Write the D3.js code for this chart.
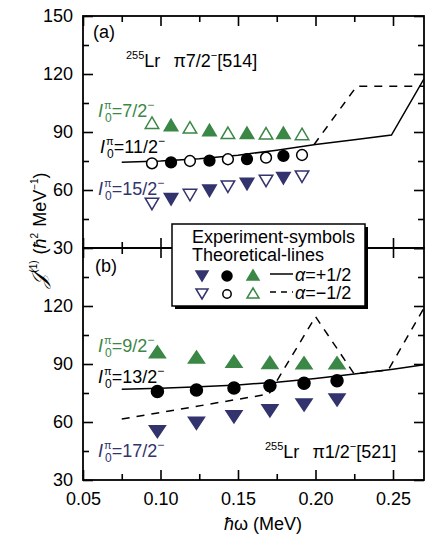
<!DOCTYPE html>
<html>
<head>
<meta charset="utf-8">
<script src="https://cdn.jsdelivr.net/npm/d3@7"></script>
<style>
  body { margin: 0; background: #fff; }
  svg text { font-family: "Liberation Sans", Arial, Helvetica, sans-serif; }
</style>
</head>
<body>
<script>
// ---- data ----
// panel (a): 255Lr pi7/2-[514], markers alternate open / filled
let hwA  = [0.0945, 0.1068, 0.1190, 0.1316, 0.1435, 0.1558, 0.1681, 0.1793, 0.1913];
let a7   = [94.8, 93.6, 92.4, 91.0, 89.6, 89.6, 89.3, 89.6, 89.0];
let a11  = [73.8, 74.3, 75.0, 75.2, 75.9, 76.0, 76.7, 77.6, 78.1];
let a15  = [52.8, 55.2, 57.4, 59.6, 61.7, 63.1, 64.7, 66.1, 66.9];

// panel (b): 255Lr pi1/2-[521], all filled
let hwB  = [0.0980, 0.1232, 0.1474, 0.1706, 0.1926, 0.2139];
let b9   = [96.3, 93.6, 91.4, 90.8, 90.6, 90.6];
let b13  = [75.8, 76.6, 77.6, 78.8, 80.0, 81.3];
let b17  = [55.0, 59.3, 62.7, 65.8, 68.8, 71.4];

// theoretical lines [hw, J1]
let thAplus  = [[0.075, 74.3], [0.100, 75.0], [0.125, 76.2], [0.150, 78.0], [0.175, 80.6],
                [0.200, 83.5], [0.225, 86.0], [0.249, 88.4], [0.270, 117.5]];
let thAminus = [[0.199, 83.4], [0.2265, 113.6], [0.270, 113.6]];
let thBplus  = [[0.075, 77.0], [0.100, 77.5], [0.125, 78.2], [0.150, 79.2], [0.175, 80.6],
                [0.200, 82.5], [0.225, 84.8], [0.250, 87.3], [0.270, 89.6]];
let thBminus = [[0.075, 61.5], [0.170, 74.5], [0.200, 114.5], [0.225, 84.8], [0.247, 87.0], [0.270, 119.0]];

let xMajor = [0.05, 0.10, 0.15, 0.20, 0.25];
let xMinor = [0.075, 0.125, 0.175, 0.225];
let yMajor = [30, 60, 90, 120, 150];
let yMinor = [45, 75, 105, 135];

(function () {

  let green = '#3b8746';
  let blue  = '#33336d';

  let W = 426, H = 535;
  let left = 83, right = 424;
  let aTop = 16, mid = 248, bBot = 480;

  let svg = d3.select('body').append('svg')
      .attr('width', W)
      .attr('height', H);

  let x  = d3.scaleLinear().domain([0.05, 0.27]).range([left, right]);
  let yA = d3.scaleLinear().domain([30, 150]).range([mid, aTop]);
  let yB = d3.scaleLinear().domain([30, 150]).range([bBot, mid]);

  svg.append('clipPath').attr('id', 'clipA').append('rect')
    .attr('x', left).attr('y', aTop).attr('width', right - left).attr('height', mid - aTop);
  svg.append('clipPath').attr('id', 'clipB').append('rect')
    .attr('x', left).attr('y', mid).attr('width', right - left).attr('height', bBot - mid);

  function styleAxis(g) {
    g.select('.domain').remove();
    g.selectAll('line').attr('stroke', '#000').attr('stroke-width', 1.6);
    g.selectAll('text').attr('fill', '#000').style('font-size', '18px');
  }

  function frame(y, top, bot, showX, yLabels) {
    // left
    svg.append('g').attr('transform', 'translate(' + left + ',0)')
      .call(d3.axisLeft(y).tickValues(yLabels).tickSize(-10).tickPadding(10).tickFormat(d3.format('d')))
      .call(styleAxis);
    svg.append('g').attr('transform', 'translate(' + left + ',0)')
      .call(d3.axisLeft(y).tickValues(yMinor).tickSize(-6).tickFormat(''))
      .call(styleAxis);
    // right
    svg.append('g').attr('transform', 'translate(' + right + ',0)')
      .call(d3.axisRight(y).tickValues(yMajor).tickSize(-10).tickFormat(''))
      .call(styleAxis);
    svg.append('g').attr('transform', 'translate(' + right + ',0)')
      .call(d3.axisRight(y).tickValues(yMinor).tickSize(-6).tickFormat(''))
      .call(styleAxis);
    // top
    svg.append('g').attr('transform', 'translate(0,' + top + ')')
      .call(d3.axisTop(x).tickValues(xMajor).tickSize(-10).tickFormat(''))
      .call(styleAxis);
    svg.append('g').attr('transform', 'translate(0,' + top + ')')
      .call(d3.axisTop(x).tickValues(xMinor).tickSize(-6).tickFormat(''))
      .call(styleAxis);
    // bottom
    svg.append('g').attr('transform', 'translate(0,' + bot + ')')
      .call(d3.axisBottom(x).tickValues(xMajor).tickSize(-10).tickPadding(12)
        .tickFormat(showX ? d3.format('.2f') : ''))
      .call(styleAxis);
    svg.append('g').attr('transform', 'translate(0,' + bot + ')')
      .call(d3.axisBottom(x).tickValues(xMinor).tickSize(-6).tickFormat(''))
      .call(styleAxis);

    svg.append('rect')
      .attr('x', left).attr('y', top)
      .attr('width', right - left).attr('height', bot - top)
      .attr('fill', 'none').attr('stroke', '#000').attr('stroke-width', 1.8);
  }

  frame(yA, aTop, mid, false, yMajor);
  frame(yB, mid, bBot, true, [30, 60, 90, 120]);

  // theoretical curves
  function curve(data, y, clip, dashed) {
    svg.append('path')
      .datum(data)
      .attr('clip-path', 'url(#' + clip + ')')
      .attr('fill', 'none')
      .attr('stroke', '#000')
      .attr('stroke-width', 1.5)
      .attr('stroke-dasharray', dashed ? '8,7' : null)
      .attr('d', d3.line().x(d => x(d[0])).y(d => y(d[1])));
  }
  curve(thAplus, yA, 'clipA', false);
  curve(thAminus, yA, 'clipA', true);
  curve(thBplus, yB, 'clipB', false);
  curve(thBminus, yB, 'clipB', true);

  // marker shapes
  function tri(w, h, up) {
    let s = up ? 1 : -1;
    return 'M0,' + (-s * h / 2) + 'L' + (w / 2) + ',' + (s * h / 2) + 'L' + (-w / 2) + ',' + (s * h / 2) + 'Z';
  }

  function markers(hw, vals, y, shape, color, alternate, size) {
    let g = svg.append('g');
    vals.forEach(function (v, i) {
      let filled = alternate ? (i % 2 === 1) : true;
      let el;
      if (shape === 'circle') {
        el = g.append('circle').attr('r', size.r);
      } else {
        el = g.append('path').attr('d', tri(size.w, size.h, shape === 'up'));
      }
      el.attr('transform', 'translate(' + x(hw[i]) + ',' + y(v) + ')')
        .attr('fill', filled ? color : '#fff')
        .attr('stroke', color)
        .attr('stroke-width', 1.5);
    });
  }

  let sA = { r: 5.4, w: 13.5, h: 11.5 };
  let sB = { r: 6.0, w: 16, h: 12 };
  markers(hwA, a7, yA, 'up', green, true, sA);
  markers(hwA, a11, yA, 'circle', '#000', true, sA);
  markers(hwA, a15, yA, 'down', blue, true, sA);
  markers(hwB, b9, yB, 'up', green, false, sB);
  markers(hwB, b13, yB, 'circle', '#000', false, sB);
  markers(hwB, b17, yB, 'down', blue, false, sB);

  // rich text helper
  function rich(x0, y0, parts, color, anchor, rotate) {
    let t = svg.append('text')
        .attr('x', x0).attr('y', y0)
        .attr('fill', color || '#000')
        .style('font-size', '18px');
    if (anchor) t.attr('text-anchor', anchor);
    if (rotate) t.attr('transform', 'rotate(' + rotate + ',' + x0 + ',' + y0 + ')');
    parts.forEach(function (p) {
      let s = t.append('tspan').text(p.t);
      if (p.size) s.style('font-size', p.size + 'px');
      if (p.dy) s.attr('dy', p.dy);
      if (p.dx) s.attr('dx', p.dx);
      if (p.it) s.style('font-style', 'italic');
      if (p.font) s.style('font-family', p.font);
    });
    return t;
  }

  function spin(x0, y0, value, color) {
    rich(x0, y0, [
      { t: 'I', it: 1 },
      { t: 'π', size: 11, dy: -8, dx: 1 },
      { t: '0', size: 12, dx: -6.5, dy: 13 },
      { t: '=' + value, dy: -5 },
      { t: '−', size: 12, dy: -8 }
    ], color);
  }

  function config(x0, y0, orbital, nilsson) {
    rich(x0, y0, [
      { t: '255', size: 11, dy: -8 },
      { t: 'Lr', dy: 8 },
      { t: 'π' + orbital, dx: 13 },
      { t: '−', size: 11, dy: -8 },
      { t: nilsson, dy: 8 }
    ]);
  }

  rich(93, 38, [{ t: '(a)' }]);
  config(126, 67, '7/2', '[514]');
  spin(98, 117, '7/2', green);
  spin(100, 153, '11/2', '#000');
  spin(98, 195, '15/2', blue);

  rich(95, 272, [{ t: '(b)' }]);
  config(265, 458, '1/2', '[521]');
  spin(98, 352, '9/2', green);
  spin(98, 383, '13/2', '#000');
  spin(98, 457, '17/2', blue);

  // axis titles
  rich(263, 530, [{ t: 'ħ', it: 1 }, { t: 'ω (MeV)' }], '#000', 'middle');
  rich(46, 230, [
    { t: '𝒥', size: 21, font: '"DejaVu Serif", serif', it: 1 },
    { t: '(1)', size: 10, dy: -9, dx: 1 },
    { t: '(', dy: 9, dx: 6 },
    { t: 'ħ', it: 1 },
    { t: '2', size: 10, dy: -8 },
    { t: 'MeV', dy: 8, dx: 6 },
    { t: '−1', size: 10, dy: -8 },
    { t: ')', dy: 8 }
  ], '#000', 'middle', -90);

  // legend
  let lx = 172, ly = 224, lw = 193, lh = 82;
  let legend = svg.append('g');
  legend.append('rect').attr('x', lx + 3).attr('y', ly + 3).attr('width', lw).attr('height', lh).attr('fill', '#000');
  legend.append('rect').attr('x', lx).attr('y', ly).attr('width', lw).attr('height', lh)
    .attr('fill', '#fff').attr('stroke', '#000').attr('stroke-width', 1.5);

  rich(192, 243, [{ t: 'Experiment-symbols' }]);
  rich(192, 261, [{ t: 'Theoretical-lines' }]);

  let rows = [
    { y: 276, filled: true,  dash: null,  label: '=+1/2' },
    { y: 294, filled: false, dash: '6,5', label: '=−1/2' }
  ];
  rows.forEach(function (r) {
    legend.append('path').attr('d', tri(12, 10, false))
      .attr('transform', 'translate(202,' + r.y + ')')
      .attr('fill', r.filled ? blue : '#fff').attr('stroke', blue).attr('stroke-width', 1.5);
    legend.append('circle').attr('r', r.filled ? 5 : 4.2)
      .attr('cx', 227).attr('cy', r.y)
      .attr('fill', r.filled ? '#000' : '#fff').attr('stroke', '#000').attr('stroke-width', 1.5);
    legend.append('path').attr('d', tri(12, 10, true))
      .attr('transform', 'translate(253,' + (r.y - 1) + ')')
      .attr('fill', r.filled ? green : '#fff').attr('stroke', green).attr('stroke-width', 1.5);
    legend.append('line')
      .attr('x1', 270).attr('x2', 293).attr('y1', r.y - 2).attr('y2', r.y - 2)
      .attr('stroke', '#000').attr('stroke-width', 1.5)
      .attr('stroke-dasharray', r.dash);
    rich(295, r.y + 5, [{ t: 'α', it: 1 }, { t: r.label }]);
  });

})();
</script>
</body>
</html>
